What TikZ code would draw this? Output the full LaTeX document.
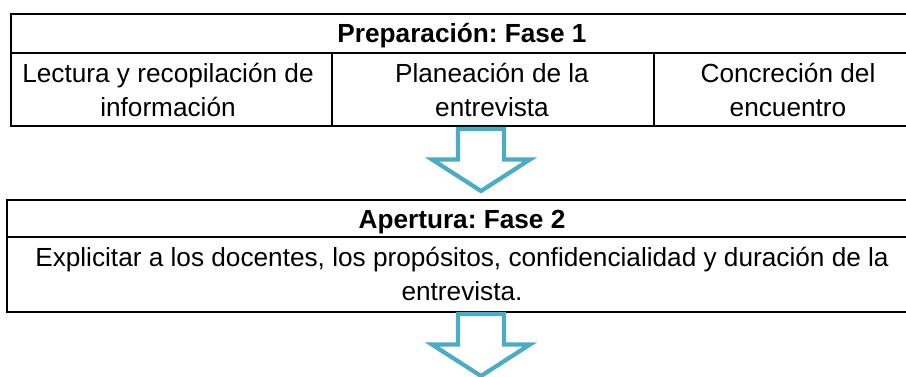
\documentclass[tikz,border=0pt]{standalone}
\usepackage{fontspec}
\setmainfont{Liberation Sans}
\frenchspacing
\definecolor{flechaazul}{RGB}{75,172,198}
\begin{document}
\begin{tikzpicture}[x=0.5pt,y=-0.5pt,line width=1.3pt,
  every node/.style={font=\fontsize{13.1}{17}\selectfont,align=center,inner sep=0pt},
  flecha/.style={draw=flechaazul,fill=white,line width=2.1pt}]
\useasboundingbox (0,0) rectangle (906,376);
\clip (0,0) rectangle (906,376);
% fase 1
\draw (11,14) rectangle (940,126);
\draw (11,53) -- (940,53);
\foreach \x in {332,654} {
  \draw (\x,53) -- (\x,126);
}
\node[anchor=base] (prep) at (462,42) {\bfseries Preparación: Fase 1};
\node (lectura) at (168,90) {Lectura y recopilación de\\información};
\node (planea) at (492,90) {Planeación de la\\entrevista};
\node (concre) at (788,90) {Concreción del\\encuentro};
% fase 2
\draw (7,200) rectangle (940,312);
\draw (7,237) -- (940,237);
\node[anchor=base] (aper) at (462,228) {\bfseries Apertura: Fase 2};
\node (explic) at (462,274) {Explicitar a los docentes, los propósitos, confidencialidad y duración de la\\entrevista.};
% flechas
\coordinate (f1) at (481,129);
\coordinate (f2) at (481,314);
\foreach \f in {f1,f2} {
  \draw[flecha] (\f) ++(-23,0) -- ++(0,30.5) -- ++(-26,0) -- ++(49,31.5)
    -- ++(49,-31.5) -- ++(-26,0) -- ++(0,-30.5) -- cycle;
}
\end{tikzpicture}
\end{document}
